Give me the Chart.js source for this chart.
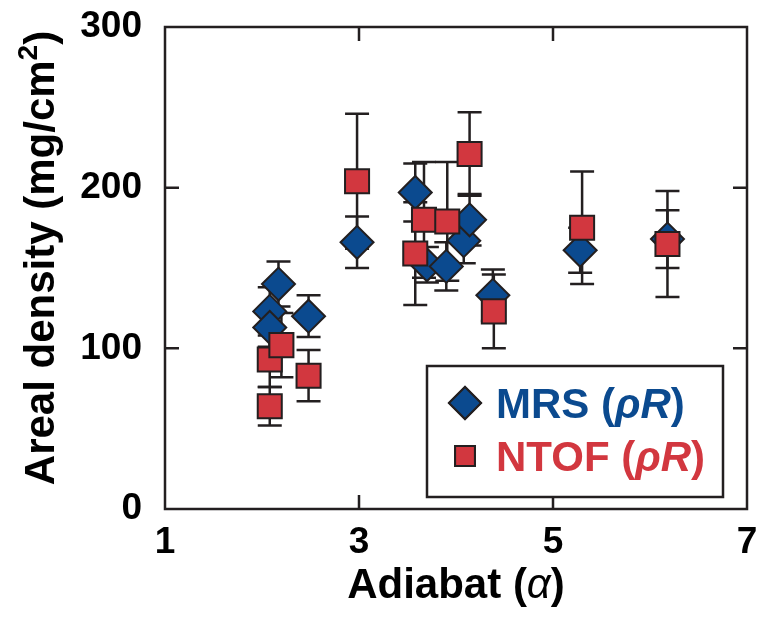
<!DOCTYPE html>
<html>
<head>
<meta charset="utf-8">
<script src="https://cdn.jsdelivr.net/npm/chart.js@4.4.1/dist/chart.umd.min.js"></script>
<style>
  html, body { margin: 0; padding: 0; background: #fff; }
  #wrap { width: 757px; height: 620px; }
</style>
</head>
<body>
<div id="wrap"><canvas id="c" width="757" height="620"></canvas></div>
<script>
// ============ data ============
const MRS_X = [2.08, 2.08, 2.17, 2.48, 2.98, 3.58, 3.70, 3.90, 4.08, 4.14, 4.38, 5.28, 6.18];
const MRS_Y = [123, 113, 140, 120, 166, 197, 152, 151, 167, 180, 133, 161, 168];
const MRS_ERR = [15, 12, 14, 13, 16, 18, 11, 15, 14, 16, 16, 14, 18];

const NTOF_X = [2.08, 2.20, 2.08, 2.48, 2.98, 3.58, 3.67, 3.91, 4.14, 4.39, 5.30, 6.18];
const NTOF_Y = [93, 102, 64, 83, 204, 159, 180, 179, 221, 123, 175, 165];
const NTOF_ERR = [17, 20, 12, 16, 42, 32, 36, 37, 26, 23, 35, 33];

const X_TICKS = [1, 3, 5, 7];
const Y_TICKS = [0, 100, 200, 300];

const BLUE = "#0b4a8f";
const RED = "#d2373f";
const INK = "#231f20";
const FONT = "'Liberation Sans', Arial, Helvetica, sans-serif";

const pts = (xs, ys) => xs.map((x, i) => ({ x, y: ys[i] }));

// write a row of text pieces with their own fonts, returns end x
function runs(ctx, pieces, x, y) {
  pieces.forEach(([txt, font, dy]) => {
    ctx.font = font;
    ctx.fillText(txt, x, y + (dy || 0));
    x += ctx.measureText(txt).width;
  });
  return x;
}
function runsWidth(ctx, pieces) {
  return pieces.reduce((w, [txt, font]) => { ctx.font = font; return w + ctx.measureText(txt).width; }, 0);
}

// =====================
// error bars, frame, inner ticks
// =====================
const errorBars = {
  id: "errorBars",
  beforeDatasetsDraw(chart) {
    const { ctx, chartArea: a, scales: { x, y } } = chart;
    const errs = [MRS_ERR, NTOF_ERR];
    ctx.save();
    ctx.strokeStyle = INK;
    ctx.lineWidth = 2.5;
    chart.data.datasets.forEach((ds, di) => {
      ds.data.forEach((p, i) => {
        const px = x.getPixelForValue(p.x);
        const top = y.getPixelForValue(p.y + errs[di][i]);
        const bot = y.getPixelForValue(p.y - errs[di][i]);
        ctx.beginPath();
        ctx.moveTo(px, top); ctx.lineTo(px, bot);
        ctx.moveTo(px - 12, top); ctx.lineTo(px + 12, top);
        ctx.moveTo(px - 12, bot); ctx.lineTo(px + 12, bot);
        ctx.stroke();
      });
    });

    // box and inward ticks
    ctx.strokeRect(a.left, a.top, a.right - a.left, a.bottom - a.top);
    ctx.beginPath();
    X_TICKS.slice(1, -1).forEach(v => {
      const px = x.getPixelForValue(v);
      ctx.moveTo(px, a.bottom); ctx.lineTo(px, a.bottom - 14);
      ctx.moveTo(px, a.top); ctx.lineTo(px, a.top + 14);
    });
    Y_TICKS.slice(1, -1).forEach(v => {
      const py = y.getPixelForValue(v);
      ctx.moveTo(a.left, py); ctx.lineTo(a.left + 14, py);
      ctx.moveTo(a.right, py); ctx.lineTo(a.right - 14, py);
    });
    ctx.stroke();
    ctx.restore();
  }
};

// =====================
// axis titles and legend box
// =====================
const extras = {
  id: "extras",
  afterDraw(chart) {
    const { ctx, chartArea: a } = chart;
    const B = "bold 42px " + FONT;
    const I = "italic 42px " + FONT;
    const BI = "italic bold 42px " + FONT;
    ctx.save();
    ctx.fillStyle = "#000";
    ctx.textBaseline = "alphabetic";

    // x title
    const xt = [["Adiabat (", B], ["\u03B1", I], [")", B]];
    runs(ctx, xt, (a.left + a.right) / 2 - runsWidth(ctx, xt) / 2, 598);

    // y title, rotated
    const yt = [["Areal density (mg/cm", B], ["2", "bold 28px " + FONT, -17], [")", B]];
    ctx.save();
    ctx.translate(54, 258);
    ctx.rotate(-Math.PI / 2);
    runs(ctx, yt, -runsWidth(ctx, yt) / 2, 0);
    ctx.restore();

    // legend
    const right = a.right - 24, bottom = a.bottom - 12;
    const w = 296, h = 131;
    const left = right - w, top = bottom - h;
    ctx.fillStyle = "#fff";
    ctx.fillRect(left, top, w, h);
    ctx.strokeStyle = INK;
    ctx.lineWidth = 2.5;
    ctx.strokeRect(left, top, w, h);

    const rows = [
      { name: "MRS (", color: BLUE, style: "rectRot", cy: top + 37 },
      { name: "NTOF (", color: RED, style: "rect", cy: top + 90 }
    ];
    rows.forEach(r => {
      ctx.fillStyle = r.color;
      ctx.strokeStyle = INK;
      ctx.lineWidth = 2;
      Chart.helpers.drawPoint(ctx, { pointStyle: r.style, radius: r.style === "rect" ? 14 : 16, borderWidth: 2 }, left + 38, r.cy);
      ctx.fill();
      ctx.stroke();
      ctx.fillStyle = r.color;
      runs(ctx, [[r.name, B], ["\u03C1R", BI], [")", B]], left + 69, r.cy + 15);
    });
    ctx.restore();
  }
};

// =====================
// chart
// =====================
new Chart(document.getElementById("c"), {
  type: "scatter",
  data: {
    datasets: [
      {
        label: "MRS (\u03C1R)",
        data: pts(MRS_X, MRS_Y),
        pointStyle: "rectRot",
        pointRadius: 16.5,
        pointHoverRadius: 16.5,
        backgroundColor: BLUE,
        borderColor: INK,
        borderWidth: 2,
        order: 2
      },
      {
        label: "NTOF (\u03C1R)",
        data: pts(NTOF_X, NTOF_Y),
        pointStyle: "rect",
        pointRadius: 17,
        pointHoverRadius: 17,
        backgroundColor: RED,
        borderColor: INK,
        borderWidth: 2,
        order: 1
      }
    ]
  },
  options: {
    responsive: false,
    animation: false,
    events: [],
    layout: { autoPadding: false, padding: { top: 27, right: 10, left: 0, bottom: 0 } },
    plugins: { legend: { display: false }, tooltip: { enabled: false } },
    scales: {
      x: {
        type: "linear",
        min: 1,
        max: 7,
        afterBuildTicks: s => { s.ticks = X_TICKS.map(v => ({ value: v })); },
        afterFit: s => { s.height = 111; s.paddingLeft = 0; s.paddingRight = 0; },
        grid: { display: false },
        border: { display: false },
        ticks: { color: "#000", padding: 4, font: { family: FONT, size: 37, weight: "bold" } }
      },
      y: {
        min: 0,
        max: 300,
        afterBuildTicks: s => { s.ticks = Y_TICKS.map(v => ({ value: v })); },
        afterFit: s => { s.width = 165; s.paddingTop = 0; s.paddingBottom = 0; },
        grid: { display: false },
        border: { display: false },
        ticks: { color: "#000", padding: 15, font: { family: FONT, size: 37, weight: "bold" } }
      }
    }
  },
  plugins: [errorBars, extras]
});
</script>
</body>
</html>
